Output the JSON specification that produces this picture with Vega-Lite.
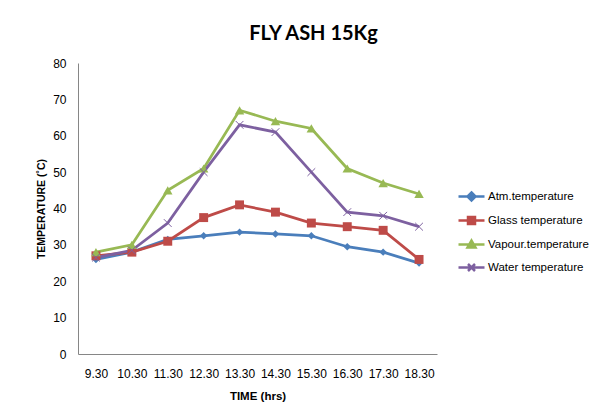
{
  "$schema": "https://vega.github.io/schema/vega-lite/v6.json",
  "width": 359,
  "height": 291,
  "autosize": "none",
  "padding": {"left": 78, "top": 63, "right": 176, "bottom": 56},
  "background": "white",
  "config": {"view": {"stroke": null}, "font": "Liberation Sans"},
  "title": {"text": "FLY ASH 15Kg", "font": "Lato", "fontSize": 20, "fontWeight": "bold", "color": "#000000", "anchor": "middle", "dx": 56, "offset": 13},
  "data": {"values": [
    {"time": "9.30", "series": "Atm.temperature", "value": 26},
    {"time": "10.30", "series": "Atm.temperature", "value": 28},
    {"time": "11.30", "series": "Atm.temperature", "value": 31.5},
    {"time": "12.30", "series": "Atm.temperature", "value": 32.5},
    {"time": "13.30", "series": "Atm.temperature", "value": 33.5},
    {"time": "14.30", "series": "Atm.temperature", "value": 33},
    {"time": "15.30", "series": "Atm.temperature", "value": 32.5},
    {"time": "16.30", "series": "Atm.temperature", "value": 29.5},
    {"time": "17.30", "series": "Atm.temperature", "value": 28},
    {"time": "18.30", "series": "Atm.temperature", "value": 25},
    {"time": "9.30", "series": "Glass temperature", "value": 27},
    {"time": "10.30", "series": "Glass temperature", "value": 28},
    {"time": "11.30", "series": "Glass temperature", "value": 31},
    {"time": "12.30", "series": "Glass temperature", "value": 37.5},
    {"time": "13.30", "series": "Glass temperature", "value": 41},
    {"time": "14.30", "series": "Glass temperature", "value": 39},
    {"time": "15.30", "series": "Glass temperature", "value": 36},
    {"time": "16.30", "series": "Glass temperature", "value": 35},
    {"time": "17.30", "series": "Glass temperature", "value": 34},
    {"time": "18.30", "series": "Glass temperature", "value": 26},
    {"time": "9.30", "series": "Vapour.temperature", "value": 28},
    {"time": "10.30", "series": "Vapour.temperature", "value": 30},
    {"time": "11.30", "series": "Vapour.temperature", "value": 45},
    {"time": "12.30", "series": "Vapour.temperature", "value": 51},
    {"time": "13.30", "series": "Vapour.temperature", "value": 67},
    {"time": "14.30", "series": "Vapour.temperature", "value": 64},
    {"time": "15.30", "series": "Vapour.temperature", "value": 62},
    {"time": "16.30", "series": "Vapour.temperature", "value": 51},
    {"time": "17.30", "series": "Vapour.temperature", "value": 47},
    {"time": "18.30", "series": "Vapour.temperature", "value": 44},
    {"time": "9.30", "series": "Water temperature", "value": 26.5},
    {"time": "10.30", "series": "Water temperature", "value": 28.5},
    {"time": "11.30", "series": "Water temperature", "value": 36},
    {"time": "12.30", "series": "Water temperature", "value": 50},
    {"time": "13.30", "series": "Water temperature", "value": 63},
    {"time": "14.30", "series": "Water temperature", "value": 61},
    {"time": "15.30", "series": "Water temperature", "value": 50},
    {"time": "16.30", "series": "Water temperature", "value": 39},
    {"time": "17.30", "series": "Water temperature", "value": 38},
    {"time": "18.30", "series": "Water temperature", "value": 35}
  ]},
  "encoding": {
    "x": {
      "field": "time", "type": "ordinal", "sort": null,
      "axis": {"title": "TIME  (hrs)", "labelAngle": 0, "ticks": false, "domainColor": "#868686", "labelFontSize": 12, "labelColor": "#000000", "labelPadding": 14, "titleFontSize": 11.5, "titleFontWeight": "bold", "titleColor": "#000000", "titlePadding": 11}
    },
    "y": {
      "field": "value", "type": "quantitative",
      "scale": {"domain": [0, 80]},
      "axis": {"title": "TEMPERATURE  (˚C)", "values": [0, 10, 20, 30, 40, 50, 60, 70, 80], "grid": false, "ticks": false, "domainColor": "#868686", "labelFontSize": 12, "labelColor": "#000000", "labelPadding": 12, "titleFontSize": 10.5, "titleFontWeight": "bold", "titleColor": "#000000", "titlePadding": 6}
    },
    "color": {
      "field": "series", "type": "nominal",
      "scale": {"domain": ["Atm.temperature", "Glass temperature", "Vapour.temperature", "Water temperature"], "range": ["#4A7EBB", "#BE4B48", "#98B954", "#7D60A0"]},
      "legend": {
        "title": null, "orient": "none", "legendX": 387, "legendY": 127, "padding": 0,
        "labelFontSize": 11.5, "labelColor": "#000000", "labelOffset": 10,
        "symbolSize": 100, "symbolStrokeWidth": 2.5, "rowPadding": 6,
        "encode": {"symbols": {"update": {
          "shape": {"signal": "datum.value === 'Atm.temperature' ? 'M-2.6,0L2.6,0M0,-0.8L0.8,0L0,0.8L-0.8,0Z' : datum.value === 'Glass temperature' ? 'M-2.6,0L2.6,0M-0.7,-0.7L0.7,-0.7L0.7,0.7L-0.7,0.7Z' : datum.value === 'Vapour.temperature' ? 'M-2.6,0L2.6,0M0,-0.8L0.8,0.6L-0.8,0.6Z' : 'M-2.6,0L2.6,0M-0.7,-0.7L0.7,0.7M0.7,-0.7L-0.7,0.7'"},
          "fill": {"signal": "scale('color', datum.value)"},
          "stroke": {"signal": "scale('color', datum.value)"},
          "strokeWidth": {"value": 2.5},
          "opacity": {"value": 1}
        }}}
      }
    }
  },
  "layer": [
    {"mark": {"type": "line", "strokeWidth": 2.75}},
    {
      "transform": [{"filter": "datum.series === 'Atm.temperature'"}],
      "mark": {"type": "point", "filled": true, "opacity": 1, "strokeWidth": 1, "shape": "diamond", "size": 55}
    },
    {
      "transform": [{"filter": "datum.series === 'Glass temperature'"}],
      "mark": {"type": "point", "filled": true, "opacity": 1, "strokeWidth": 1, "shape": "square", "size": 80}
    },
    {
      "transform": [{"filter": "datum.series === 'Vapour.temperature'"}],
      "mark": {"type": "point", "filled": true, "opacity": 1, "strokeWidth": 1, "shape": "triangle-up", "size": 90}
    },
    {
      "transform": [{"filter": "datum.series === 'Water temperature'"}],
      "mark": {"type": "point", "filled": false, "opacity": 1, "strokeWidth": 1, "shape": "M-1,-1L1,1M1,-1L-1,1", "size": 60}
    }
  ]
}
